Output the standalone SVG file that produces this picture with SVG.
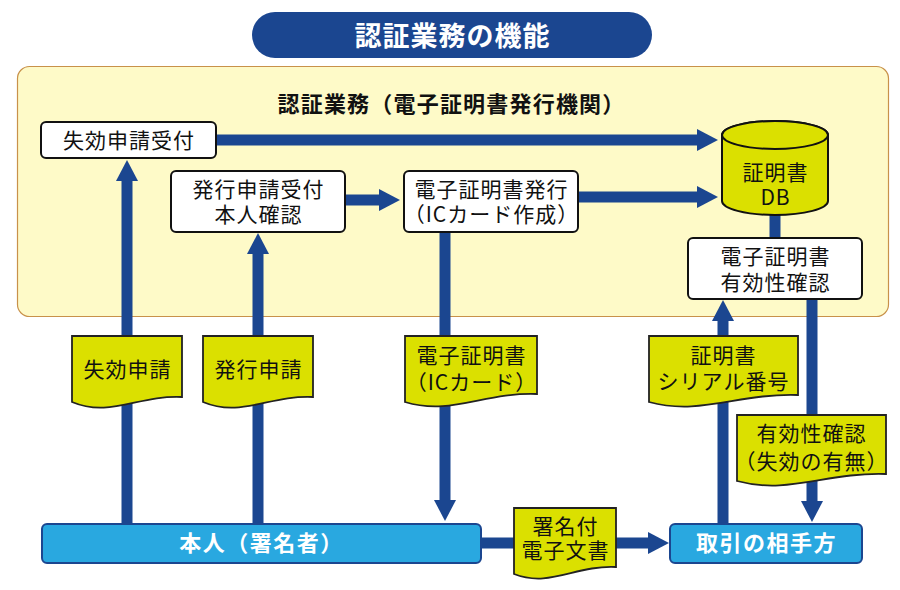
<svg xmlns="http://www.w3.org/2000/svg" width="900" height="590" viewBox="0 0 900 590">
<defs>
<marker id="ah" markerUnits="userSpaceOnUse" markerWidth="22" markerHeight="22" refX="0" refY="11" orient="auto" overflow="visible">
<path d="M0,0 L21,11 L0,22 Z" fill="#1b4690"/>
</marker>
<style>
text{font-family:"Noto Sans CJK JP","Noto Sans",sans-serif;text-anchor:middle}
.t{font-size:21px;fill:#111;letter-spacing:1px}
.w{font-size:22px;fill:#fff;font-weight:bold;letter-spacing:1.5px}
.box{fill:#fff;stroke:#111;stroke-width:2}
.doc{fill:#dbe000;stroke:#222;stroke-width:1.8}
.blue{fill:#29a8e0;stroke:#1b4690;stroke-width:2}
.c{stroke:#1b4690;stroke-width:11;fill:none}
.ca{stroke:#1b4690;stroke-width:11;fill:none;marker-end:url(#ah)}
</style>
</defs>
<rect x="0" y="0" width="900" height="590" fill="#fff"/>
<g id="title">
<rect x="252" y="12" width="400" height="46" rx="23" fill="#1b4690"/>
<text x="452.5" y="46" style="font-size:27px;font-weight:bold;fill:#fff;letter-spacing:1px">認証業務の機能</text>
</g>
<g id="panel">
<rect x="17.5" y="66.5" width="871" height="250" rx="12" fill="#fefac8" stroke="#c8914a" stroke-width="1.2"/>
<text x="451.5" y="112" style="font-size:22px;font-weight:bold;fill:#111;letter-spacing:1.2px">認証業務（電子証明書発行機関）</text>
</g>
<g id="connectors">
<line class="ca" x1="216" y1="140" x2="697" y2="140"/>
<line class="ca" x1="345" y1="200" x2="379" y2="200"/>
<line class="ca" x1="578" y1="197" x2="697" y2="197"/>
<line class="c" x1="775" y1="210" x2="775" y2="240"/>
<line class="ca" x1="127" y1="524" x2="127" y2="181"/>
<line class="ca" x1="258" y1="524" x2="258" y2="254"/>
<line class="ca" x1="445" y1="232" x2="445" y2="500"/>
<line class="ca" x1="723" y1="524" x2="723" y2="321"/>
<line class="ca" x1="812" y1="299" x2="812" y2="501"/>
<line class="ca" x1="481" y1="543" x2="648" y2="543"/>
</g>
<g id="n-shikkou-uketsuke">
<rect class="box" x="41" y="122" width="175" height="36" rx="5"/>
<text class="t" x="129" y="148">失効申請受付</text>
</g>
<g id="n-hakkou-uketsuke">
<rect class="box" x="171" y="171" width="174" height="61" rx="5"/>
<text class="t"><tspan x="258.5" y="197">発行申請受付</tspan><tspan x="258.5" y="222">本人確認</tspan></text>
</g>
<g id="n-hakkou">
<rect class="box" x="404" y="171" width="174" height="61" rx="5"/>
<text class="t"><tspan x="491.5" y="197">電子証明書発行</tspan><tspan x="491.5" y="222">（ICカード作成）</tspan></text>
</g>
<g id="n-db">
<path d="M722,135 V201 A53,14 0 0 0 828,201 V135 A53,14 0 0 0 722,135 Z" fill="#dbe000" stroke="#111" stroke-width="2"/>
<ellipse cx="775" cy="135" rx="53" ry="14" fill="#dbe000" stroke="#111" stroke-width="2"/>
<text class="t"><tspan x="775.5" y="180">証明書</tspan><tspan x="775.5" y="205">DB</tspan></text>
</g>
<g id="n-yuukousei">
<rect class="box" x="688" y="238" width="174" height="61" rx="5"/>
<text class="t"><tspan x="775.5" y="264">電子証明書</tspan><tspan x="775.5" y="290">有効性確認</tspan></text>
</g>
<g id="d-shikkou">
<path class="doc" d="M72,336 H182 V397 C138,395 110,418 72,402 Z"/>
<text class="t" x="127.5" y="377">失効申請</text>
</g>
<g id="d-hakkou">
<path class="doc" d="M203,336 H313 V397 C269,395 241,418 203,402 Z"/>
<text class="t" x="258.5" y="377">発行申請</text>
</g>
<g id="d-card">
<path class="doc" d="M405,336 H537 V394 C484,392 451,416 405,402 Z"/>
<text class="t"><tspan x="471.5" y="363">電子証明書</tspan><tspan x="471.5" y="390">（ICカード）</tspan></text>
</g>
<g id="d-serial">
<path class="doc" d="M649,336 H798 V395 C738,393 701,416 649,402 Z"/>
<text class="t"><tspan x="723.5" y="363">証明書</tspan><tspan x="723.5" y="389">シリアル番号</tspan></text>
</g>
<g id="d-kakunin">
<path class="doc" d="M737,415 H886 V474 C826,472 789,495 737,481 Z"/>
<text class="t"><tspan x="811.5" y="441">有効性確認</tspan><tspan x="811.5" y="469">（失効の有無）</tspan></text>
</g>
<g id="d-bunsho">
<path class="doc" d="M514,508 H616 V567 C575,565 550,588 514,574 Z"/>
<text class="t"><tspan x="565.5" y="534">署名付</tspan><tspan x="565.5" y="558">電子文書</tspan></text>
</g>
<g id="n-honnin">
<rect class="blue" x="42" y="524" width="439" height="39" rx="5"/>
<text class="w" x="261.5" y="551">本人（署名者）</text>
</g>
<g id="n-aite">
<rect class="blue" x="670" y="524" width="192" height="39" rx="5"/>
<text class="w" x="766.5" y="551">取引の相手方</text>
</g>
</svg>
